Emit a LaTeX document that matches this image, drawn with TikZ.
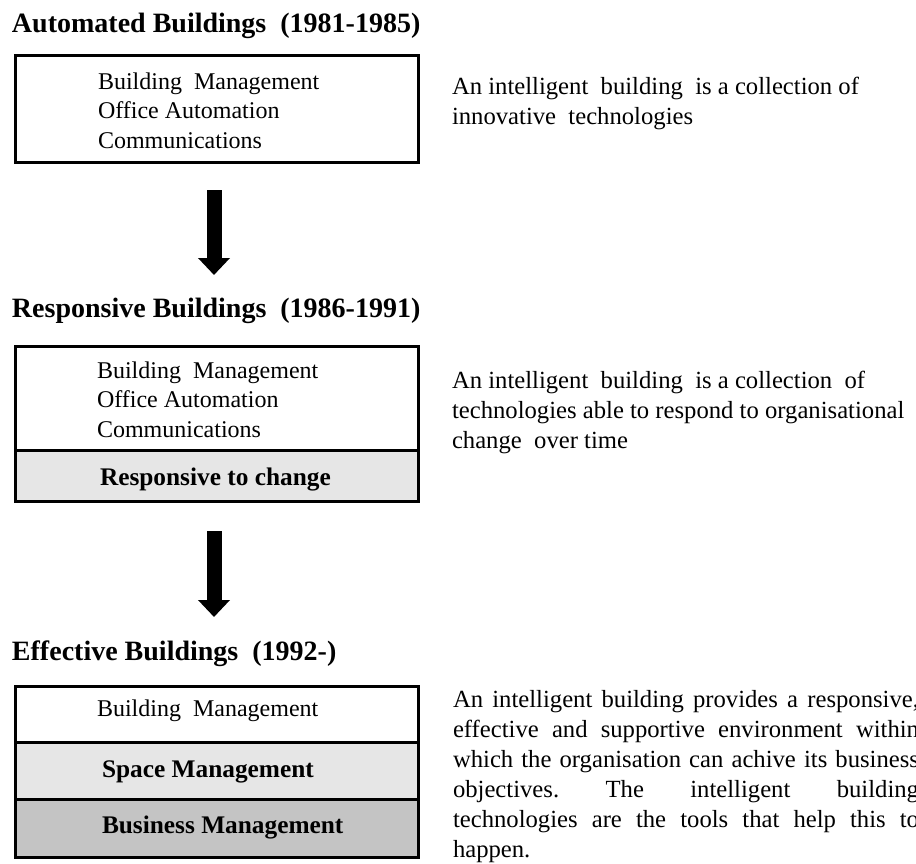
\documentclass[tikz,border=0pt]{standalone}
\usepackage{fontspec}
\setmainfont{Liberation Serif}
\usetikzlibrary{arrows.meta}
% width of the justified lines in the descriptions
\newlength\jw
\setlength\jw{349.5pt}
\newcommand\jline[1]{\makebox[\jw][s]{#1}}
\definecolor{paneA}{HTML}{E6E6E6}
\definecolor{paneB}{HTML}{C4C4C4}
\frenchspacing
\begin{document}
\begin{tikzpicture}[x=0.75pt,y=-0.75pt,
  every node/.style={inner sep=0pt, outer sep=0pt},
  era/.style={anchor=base west, font=\fontsize{21}{25}\selectfont\bfseries},
  % multi-line nodes are placed by the baseline of their last line
  tech/.style={anchor=base west, align=left, font=\fontsize{18}{22}\selectfont},
  feature/.style={anchor=base west, font=\fontsize{19}{23}\selectfont\bfseries},
  note/.style={anchor=base west, align=left, font=\fontsize{18.5}{22.5}\selectfont},
  panel/.style={draw=black, line width=2.25pt, anchor=north west, minimum width=302.25pt},
  flow/.style={line width=11.25pt, -{Triangle[length=12.75pt, width=23.25pt]}}
]
\clip (0,0) rectangle (916,863);

% ---- 1981-1985 ----
\node[era] (t1) at (12,33) {Automated Buildings\ \ (1981-1985)};
\node[panel, fill=white, minimum height=79.5pt] (p1) at (15,56) {};
\node[tech] (p1txt) at (98,148) {Building\ \ Management\\Office Automation\\Communications};
\node[note] (n1) at (452,125) {An intelligent\ \ building\ \ is a collection of\\innovative\ \ technologies};

\coordinate (a1s) at (214,190);
\coordinate (a1e) at (214,275);
\draw[flow] (a1s) -- (a1e);

% ---- 1986-1991 ----
\node[era] (t2) at (12,317) {Responsive Buildings\ \ (1986-1991)};
\node[panel, fill=white, minimum height=78pt] (p2a) at (15,346) {};
\node[panel, fill=paneA, minimum height=38.25pt] (p2b) at (15,450) {};
\node[tech] (p2txt) at (97,437) {Building\ \ Management\\Office Automation\\Communications};
\node[feature] (p2lab) at (100,485) {Responsive to change};
\node[note] (n2) at (452,448) {An intelligent\ \ building\ \ is a collection\ \ of\\technologies able to respond to organisational\\change\ \ over time};

\coordinate (a2s) at (214,531);
\coordinate (a2e) at (214,617);
\draw[flow] (a2s) -- (a2e);

% ---- 1992- ----
\node[era] (t3) at (12,660) {Effective Buildings\ \ (1992-)};
\node[panel, fill=white, minimum height=42pt] (p3a) at (15,686) {};
\node[panel, fill=paneA, minimum height=42.75pt] (p3b) at (15,742) {};
\node[panel, fill=paneB, minimum height=43.5pt] (p3c) at (15,799) {};
\node[tech] (p3lab1) at (97,716) {Building\ \ Management};
\node[feature] (p3lab2) at (102,777) {Space Management};
\node[feature] (p3lab3) at (102,833) {Business Management};
\node[note] (n3) at (453,857) {\jline{An intelligent building provides a responsive,}\\
  \jline{effective and supportive environment within}\\
  \jline{which the organisation can achive its business}\\
  \jline{objectives. The intelligent building}\\
  \jline{technologies are the tools that help this to}\\
  happen.};
\end{tikzpicture}
\end{document}
